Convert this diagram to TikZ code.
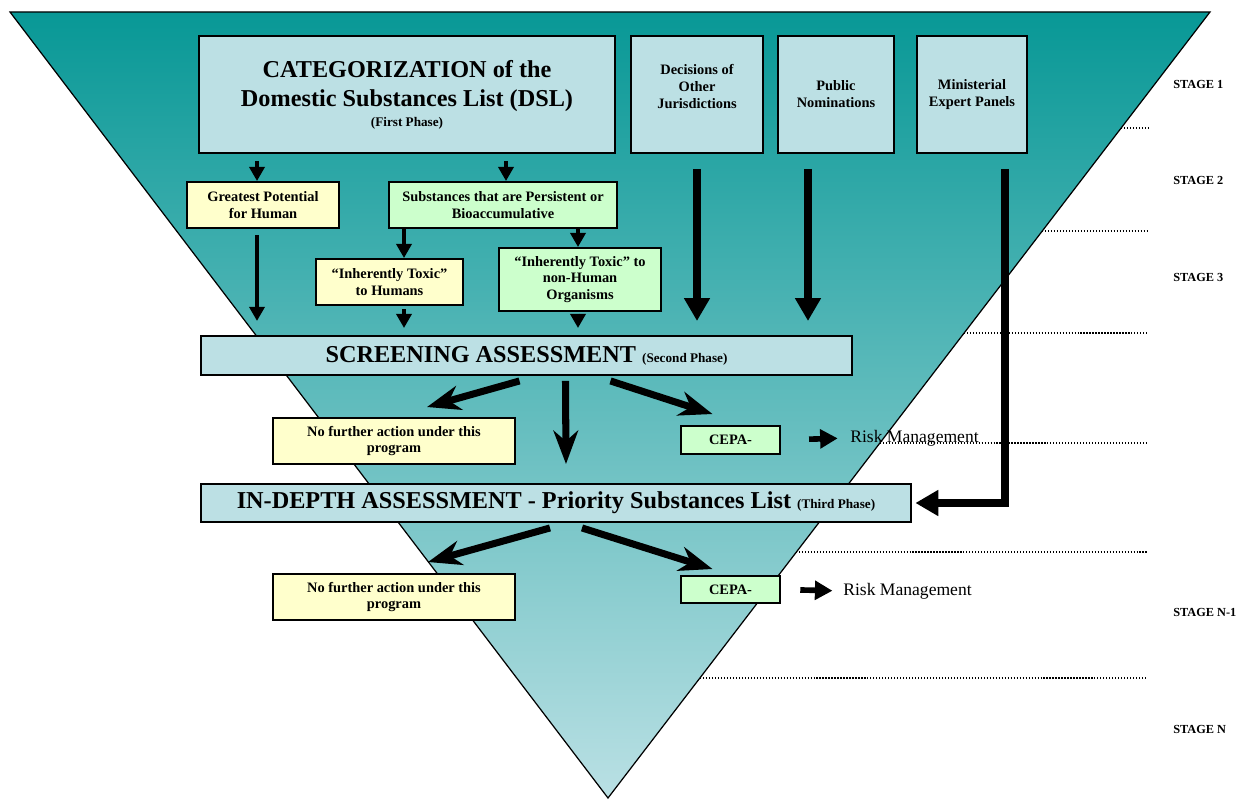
\documentclass[tikz,border=0pt]{standalone}
\usepackage{fontspec}
\setmainfont{Liberation Serif}
\usepackage{xcolor}
\usetikzlibrary{positioning,arrows.meta,calc}

\definecolor{boxblue}{RGB}{188,224,228}
\definecolor{boxyellow}{RGB}{255,255,204}
\definecolor{boxgreen}{RGB}{204,255,204}
\definecolor{funneltop}{RGB}{8,152,150}
\definecolor{funnelbot}{RGB}{186,224,228}

\begin{document}
\begin{tikzpicture}[x=0.02cm,y=-0.02cm,
 box/.style={draw=black,line width=1.1pt,fill=boxblue,inner sep=0pt,align=center,
   font=\bfseries\fontsize{8.2}{9.6}\selectfont},
 ybox/.style={box,fill=boxyellow},
 gbox/.style={box,fill=boxgreen},
 bigbox/.style={box,font=\bfseries\fontsize{13.8}{16.5}\selectfont},
 stagelab/.style={anchor=west,inner sep=0pt,font=\bfseries\fontsize{7}{8}\selectfont},
 risklab/.style={anchor=west,inner sep=0pt,font=\fontsize{10}{12}\selectfont},
 stageline/.style={line width=0.6pt,dash pattern=on 0.7pt off 1pt},
 thin/.style={-{Triangle[length=8pt,width=8.5pt]},line width=2pt},
 bigdown/.style={-{Triangle[length=13pt,width=14pt]},line width=4.5pt},
 split/.style={-{Stealth[length=19pt,width=14pt,inset=6pt]},line width=4pt},
 riskarrow/.style={-{Triangle[length=10pt,width=10.5pt]},line width=3.2pt}
]
\useasboundingbox (0,0) rectangle (1252,800);

% funnel
\shade[top color=funneltop,bottom color=funnelbot] (10,12) -- (1210,12) -- (608,798) -- cycle;
\draw[line width=0.7pt] (10,12) -- (1210,12) -- (608,798) -- cycle;

\foreach \yy/\xx in {128/1121,231/1042,333/964,443/880,552/796,678/700}
 \draw[stageline] (\xx,\yy) -- (1148,\yy);

\foreach \yy/\txt in {84/STAGE 1,180/STAGE 2,277/STAGE 3,612/STAGE N-1,729/STAGE N}
 \node[stagelab] (st\yy) at (1173,\yy) {\txt};

% first phase
\node[bigbox,minimum width=8.32cm,minimum height=2.34cm] (cat) at (407,94.5)
 {CATEGORIZATION of the\\Domestic Substances List (DSL)\\[-5pt]{\fontsize{7.5}{9}\selectfont (First Phase)}};
\node[box,minimum width=2.64cm,minimum height=2.34cm] (dec) at (697,94.5)
 {Decisions of\\Other\\Jurisdictions\\[-3pt]\strut};
\node[box,minimum width=2.32cm,minimum height=2.34cm] (pub) at (836,94.5)
 {Public\\Nominations};
\node[box,minimum width=2.20cm,minimum height=2.34cm] (mini) at (972,94.5)
 {Ministerial\\Expert Panels};

\node[ybox,minimum width=3.04cm,minimum height=0.92cm] (great) at (263,205)
 {Greatest Potential\\for Human};
\node[gbox,minimum width=4.56cm,minimum height=0.92cm] (subst) at (503,205)
 {Substances that are Persistent or\\Bioaccumulative};
\node[ybox,minimum width=2.94cm,minimum height=0.92cm] (ith) at (389.5,282)
 {“Inherently Toxic”\\to Humans};
\node[gbox,minimum width=3.24cm,minimum height=1.26cm] (itn) at (580,279.5)
 {“Inherently Toxic” to\\non-Human\\Organisms};

% second phase
\node[bigbox,minimum width=13.02cm,minimum height=0.78cm] (scr) at (526.5,355.5)
 {SCREENING ASSESSMENT {\fontsize{7.5}{9}\selectfont (Second Phase)}};
\node[ybox,minimum width=4.84cm,minimum height=0.92cm] (nfa1) at (394,441)
 {No further action under this\\program};
\node[gbox,minimum width=1.98cm,minimum height=0.56cm] (cepa1) at (730.5,440) {CEPA-};
\node[risklab] (risk1) at (850,438) {Risk Management};

% third phase
\node[bigbox,minimum width=14.20cm,minimum height=0.76cm] (indepth) at (556,503)
 {IN-DEPTH ASSESSMENT - Priority Substances List {\fontsize{7.5}{9}\selectfont (Third Phase)}};
\node[ybox,minimum width=4.84cm,minimum height=0.92cm] (nfa2) at (394,597)
 {No further action under this\\program};
\node[gbox,minimum width=1.98cm,minimum height=0.54cm] (cepa2) at (730.5,589.5) {CEPA-};
\node[risklab] (risk2) at (843,591) {Risk Management};

% arrows
\draw[thin,shorten <=4pt] (cat.south -| 257,0) -- (great.north -| 257,0);
\draw[thin,shorten <=4pt] (cat.south -| 506,0) -- (subst.north -| 506,0);
\draw[thin,shorten <=3.5pt,shorten >=8pt] (great.south -| 257,0) -- (scr.north -| 257,0);
\draw[thin] (subst.south -| 404,0) -- (ith.north -| 404,0);
\draw[thin] (subst.south -| 578,0) -- (itn.north -| 578,0);
\draw[thin,shorten <=2pt,shorten >=4pt] (ith.south -| 404,0) -- (scr.north -| 404,0);
\draw[thin,shorten <=1pt,shorten >=4pt] (itn.south -| 578,0) -- (scr.north -| 578,0);

\draw[bigdown,shorten <=8.5pt,shorten >=8pt] (dec.south) -- (dec.south |- scr.north);
\draw[bigdown,shorten <=8.5pt,shorten >=8pt] (pub.south -| 808,0) -- (scr.north -| 808,0);
\draw[bigdown,shorten <=8.5pt,shorten >=2pt] (mini.south -| 1005,0) |- (indepth.east);

\draw[split] ($(scr.south)+(-7,5)$) -- ($(nfa1.north)+(33,-10)$);
\draw[split] ($(scr.south)+(39,5)$) -- ($(indepth.north)+(10,-19)$);
\draw[split] ($(scr.south)+(84,5)$) -- ($(cepa1.north)+(-18,-11)$);
\draw[split] ($(indepth.south)+(-6,5)$) -- ($(nfa2.north)+(34,-11)$);
\draw[split] ($(indepth.south)+(26,5)$) -- ($(cepa2.north)+(-18,-6)$);

\draw[riskarrow,shorten <=16pt,shorten >=7pt] (cepa1.east) -- (risk1.west);
\draw[riskarrow,shorten <=11pt,shorten >=6pt] (cepa2.east) -- (risk2.west);
\end{tikzpicture}
\end{document}
